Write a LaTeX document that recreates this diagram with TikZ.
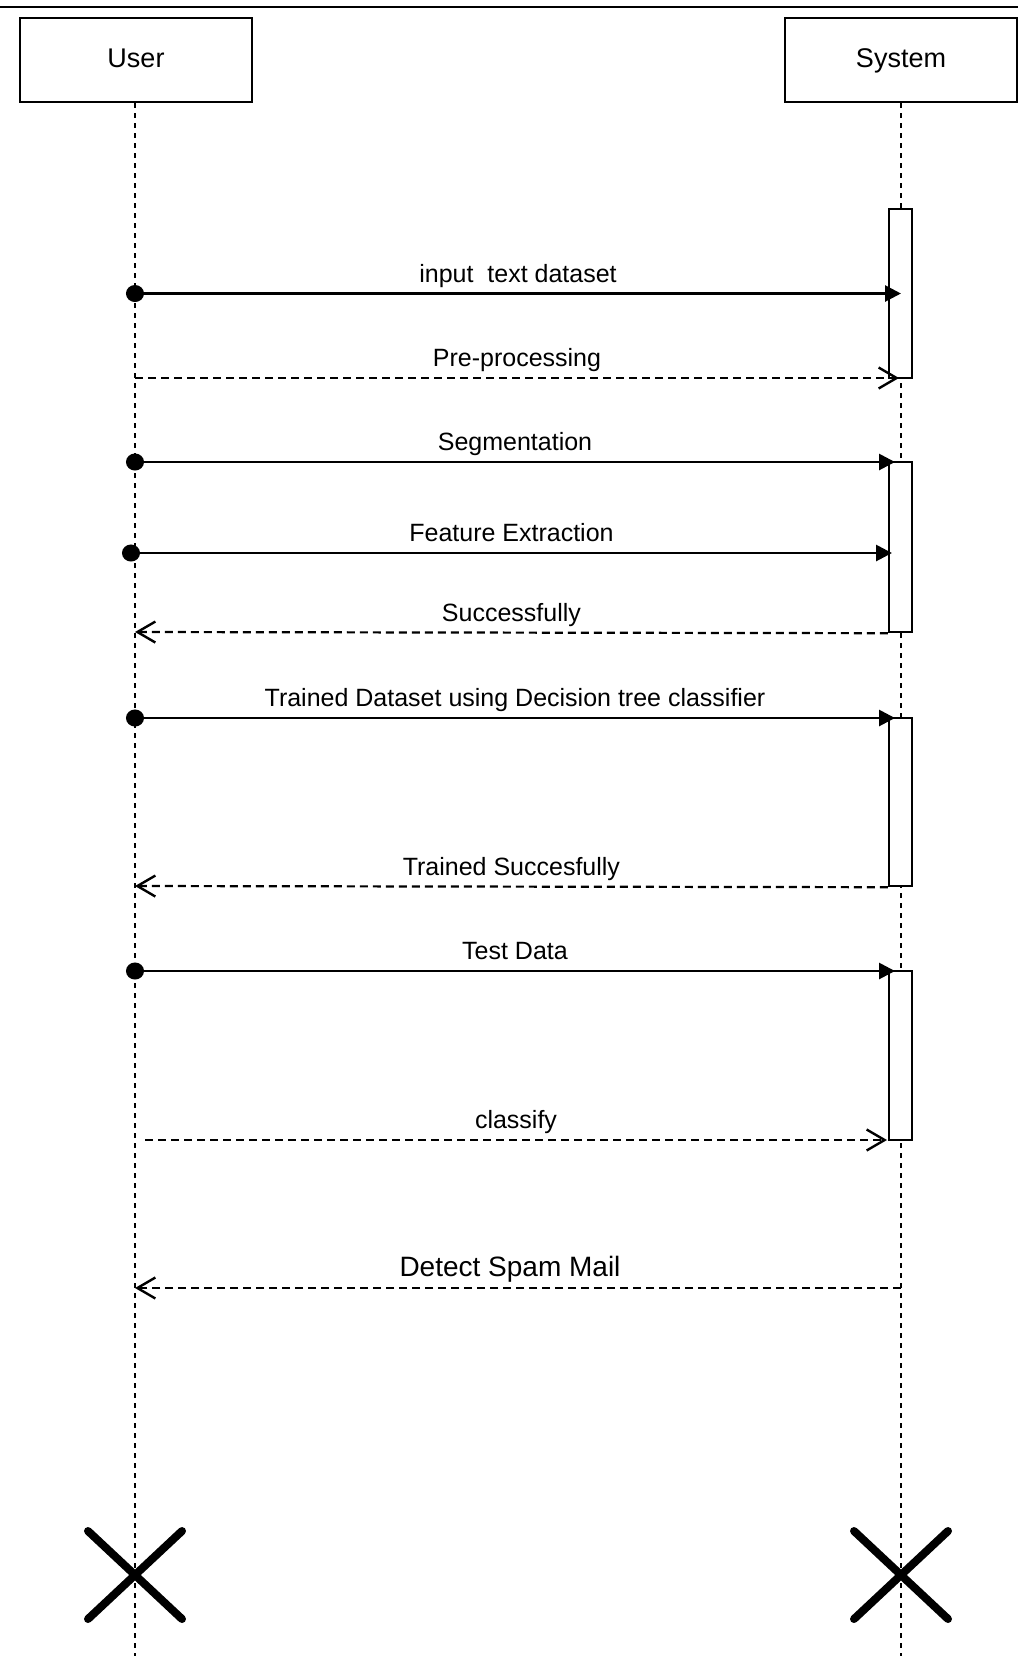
\documentclass[tikz,border=0pt]{standalone}
\usepackage{fontspec}
\setmainfont{Liberation Sans}
\usetikzlibrary{arrows.meta,positioning,shapes.misc}
\tikzset{
  actor/.style={rectangle,draw=black,line width=1.2pt,minimum width=116pt,minimum height=42pt,inner sep=0pt,text height=10pt,text depth=3pt,font=\fontsize{13.5}{16}\selectfont},
  lifeline/.style={line width=0.9pt,dash pattern=on 2.5pt off 2.5pt},
  activation/.style={rectangle,draw=black,line width=1.2pt,fill=white,minimum width=11.5pt,inner sep=0pt},
  call/.style={{Circle[length=9pt,width=8.5pt]}-{Triangle[length=8pt,width=8pt]},line width=1.4pt,shorten <=-4.5pt},
  reply/.style={-{Straight Barb[length=9pt,width=10.5pt,line width=1.2pt]},line width=1.1pt,dash pattern=on 4pt off 2.5pt},
  msg/.style={above=5pt,inner sep=0pt,text depth=0pt,font=\fontsize{12.5}{15}\selectfont},
  destroy/.style={cross out,draw=black,line width=4pt,line cap=round,minimum width=43pt,minimum height=40pt,inner sep=0pt},
}
\begin{document}
\begin{tikzpicture}[x=0.5pt,y=-0.5pt]
\useasboundingbox (0,0) rectangle (1018,1656);
\draw[line width=1pt] (0,7) -- (1018,7);
% lifelines
\node (user) [actor] at (136,60) {User};
\node (sys) [actor] at (901,60) {System};
\coordinate (uend) at (135,1656);
\coordinate (send) at (901,1656);
\draw[lifeline] (user.south -| uend) -- (uend);
\draw[lifeline] (sys.south) -- (send);
%
\node (act1) [activation,minimum height=84.5pt] at (900.5,293.5) {};
\node (act2) [activation,minimum height=85pt] at (900.5,547) {};
\node (act3) [activation,minimum height=84pt] at (900.5,802) {};
\node (act4) [activation,minimum height=84.5pt] at (900.5,1055.5) {};
% message ends
\coordinate (u1) at (135,293.5);  \coordinate (s1) at (901,293.5);
\coordinate (u2) at (135,378);    \coordinate (s2) at (899,378);
\coordinate (u3) at (135,462);    \coordinate (s3) at (895,462);
\coordinate (u4) at (131,553);    \coordinate (s4) at (892,553);
\coordinate (u5) at (135,632);
\coordinate (u6) at (135,718);    \coordinate (s6) at (895,718);
\coordinate (u7) at (135,886);
\coordinate (u8) at (135,971);    \coordinate (s8) at (895,971);
\coordinate (u9) at (145,1140);   \coordinate (s9) at (887,1140);
\coordinate (u10) at (135,1288);  \coordinate (s10) at (901,1288);
%
\path[call] (u1) edge node[msg] {input\ \ text dataset} (s1);
\path[reply] (u2) edge node[msg] {Pre-processing} (s2);
\path[call] (u3) edge node[msg] {Segmentation} (s3);
\path[call] (u4) edge node[msg] {Feature Extraction} (s4);
\path[reply] (act2.south west) edge node[msg] {Successfully} (u5);
\path[call] (u6) edge node[msg] {Trained Dataset using Decision tree classifier} (s6);
\path[reply] (act3.south west) edge node[msg] {Trained Succesfully} (u7);
\path[call] (u8) edge node[msg] {Test Data} (s8);
\path[reply] (u9) edge node[msg] {classify} (s9);
\path[reply] (s10) edge node[msg,xshift=-4pt,font=\fontsize{14}{17}\selectfont] {Detect Spam Mail} (u10);
%
\node (ux) [destroy] at (135,1575) {};
\node (sx) [destroy] at (901,1575) {};
\end{tikzpicture}
\end{document}
